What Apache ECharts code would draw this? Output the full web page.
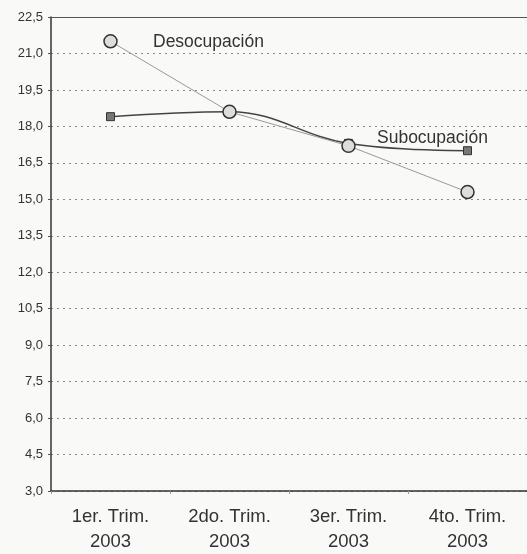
<!DOCTYPE html>
<html>
<head>
<meta charset="utf-8">
<script src="https://cdn.jsdelivr.net/npm/echarts@6/dist/echarts.min.js"></script>
<style>
html,body{margin:0;padding:0;background:#f9f9f8;overflow:hidden;}
#chart{width:527px;height:554px;}
</style>
</head>
<body>
<div id="chart"></div>
<script>
var categories = ['1er. Trim.\n2003', '2do. Trim.\n2003', '3er. Trim.\n2003', '4to. Trim.\n2003'];
var desocupacion = [21.5, 18.6, 17.2, 15.3];
var subocupacion = [18.4, 18.6, 17.3, 17.0];
var yMin = 3.0, yMax = 22.5, yStep = 1.5;

var chart = echarts.init(document.getElementById('chart'));
chart.setOption({
  backgroundColor: '#f9f9f8',
  animation: false,
  grid: {left: 51, top: 17, right: -12, bottom: 62, show: false},
  xAxis: [{
    type: 'category', data: categories, boundaryGap: true,
    axisLine: {lineStyle: {color: '#333', width: 1.5}},
    axisTick: {show: true, length: 3, lineStyle: {color: '#999'}},
    axisLabel: {color: '#333', fontSize: 18.5, fontFamily: 'Liberation Sans, Arial, sans-serif', lineHeight: 25, margin: 13}
  }, {
    type: 'category', data: categories, position: 'top', boundaryGap: true,
    axisLine: {show: true, lineStyle: {color: '#555', width: 1}},
    axisTick: {show: false}, axisLabel: {show: false}, splitLine: {show: false}
  }],
  yAxis: {
    type: 'value', min: yMin, max: yMax, interval: yStep,
    axisLine: {show: true, lineStyle: {color: '#333', width: 1.5}},
    axisTick: {show: true, length: 3, lineStyle: {color: '#555'}},
    splitLine: {show: true, lineStyle: {color: '#888', type: [2, 4], width: 1}},
    axisLabel: {color: '#333', fontSize: 13, fontFamily: 'Liberation Sans, Arial, sans-serif', margin: 8,
      formatter: function (v) { return v.toFixed(1).replace('.', ','); }}
  },
  series: [
    {
      name: 'Desocupación', type: 'line', data: desocupacion,
      symbol: 'circle', symbolSize: 13,
      lineStyle: {color: '#999', width: 1},
      itemStyle: {color: '#ddd', borderColor: '#333', borderWidth: 1.5},
      z: 3
    },
    {
      name: 'Subocupación', type: 'line', data: subocupacion, smooth: 0.4,
      symbol: 'rect', symbolSize: 8,
      lineStyle: {color: '#444', width: 1.5},
      itemStyle: {color: '#777', borderColor: '#333', borderWidth: 1},
      z: 2
    }
  ],
  graphic: [
    {type: 'text', left: 153, top: 33, style: {text: 'Desocupación', fontSize: 17.5, fill: '#333', fontFamily: 'Liberation Sans, Arial, sans-serif'}},
    {type: 'text', left: 377, top: 129, style: {text: 'Subocupación', fontSize: 17.5, fill: '#333', fontFamily: 'Liberation Sans, Arial, sans-serif'}}
  ]
});
</script>
</body>
</html>
